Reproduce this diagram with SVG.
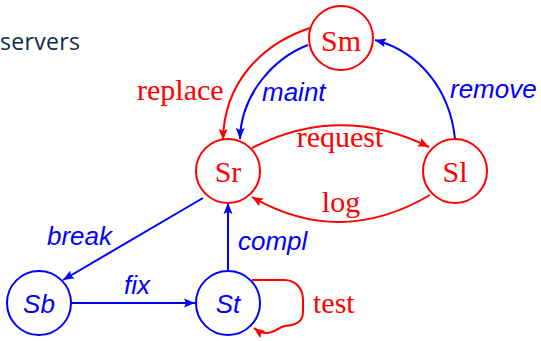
<svg xmlns="http://www.w3.org/2000/svg" width="541" height="341" viewBox="0 0 541 341">
  <defs>
    <marker id="arrRed" markerUnits="userSpaceOnUse" markerWidth="12" markerHeight="10" refX="11" refY="5" orient="auto">
      <path d="M0,0.5 L11,5 L0,9.5 L2,5 z" fill="#ff0000"/>
    </marker>
    <marker id="arrBlue" markerUnits="userSpaceOnUse" markerWidth="12" markerHeight="10" refX="11" refY="5" orient="auto">
      <path d="M0,0.5 L11,5 L0,9.5 L2,5 z" fill="#0000ff"/>
    </marker>
  </defs>
  <style>
    .node-red { fill: #ffffff; stroke: #ff0000; stroke-width: 2; }
    .node-blue { fill: #ffffff; stroke: #0000ff; stroke-width: 2; }
    .serif { font-family: "Liberation Serif", "Times New Roman", serif; font-size: 30px; fill: #ff0000; }
    .sans { font-family: "Liberation Sans", Arial, sans-serif; font-style: italic; font-size: 26px; fill: #0000ff; }
    .e-red { fill: none; stroke: #ff0000; stroke-width: 2; marker-end: url(#arrRed); }
    .e-blue { fill: none; stroke: #0000ff; stroke-width: 2; marker-end: url(#arrBlue); }
  </style>
  <rect width="541" height="341" fill="#ffffff"/>

  <text x="0" y="50" font-family="'Open Sans', 'Liberation Sans', sans-serif" font-size="23" fill="#0f2a4f" textLength="80">servers</text>

  <g id="edges">
    <path class="e-red" d="M310,28 C262,44 224,82 223,140"/>
    <path class="e-blue" d="M308,45 C274,58 241,94 240,139"/>
    <path class="e-blue" d="M455,139 C450,90 420,52 375,40"/>
    <path class="e-red" d="M252,148 Q340,103 429,147"/>
    <path class="e-red" d="M430,195 Q340,248 252,197"/>
    <path class="e-blue" d="M203,198 L63,280"/>
    <path class="e-blue" d="M71,303 L195,303"/>
    <path class="e-blue" d="M228,271 L228,203"/>
    <path class="e-red" d="M252,280 L284,280 C297,280 303,290 303,300 L303,312 C303,322 296,325 285,326 C278,327 276,333 266,333 C262,333 258,331 254,328"/>
  </g>

  <g id="labels">
    <text class="serif" x="137" y="100">replace</text>
    <text class="sans" x="262" y="101">maint</text>
    <text class="sans" x="450" y="98">remove</text>
    <text class="serif" x="340" y="147" text-anchor="middle">request</text>
    <text class="serif" x="341" y="212" text-anchor="middle">log</text>
    <text class="sans" x="47" y="245">break</text>
    <text class="sans" x="137" y="294" text-anchor="middle">fix</text>
    <text class="sans" x="238" y="250">compl</text>
    <text class="serif" x="313" y="313">test</text>
  </g>

  <g id="Sm">
    <circle class="node-red" cx="341" cy="38" r="32"/>
    <text class="serif" x="341" y="51" text-anchor="middle">Sm</text>
  </g>
  <g id="Sr">
    <circle class="node-red" cx="228" cy="171" r="32"/>
    <text class="serif" x="228" y="182" text-anchor="middle">Sr</text>
  </g>
  <g id="Sl">
    <circle class="node-red" cx="455" cy="171" r="32"/>
    <text class="serif" x="455" y="182" text-anchor="middle">Sl</text>
  </g>
  <g id="Sb">
    <circle class="node-blue" cx="39" cy="303" r="32"/>
    <text class="sans" x="39" y="313" text-anchor="middle">Sb</text>
  </g>
  <g id="St">
    <circle class="node-blue" cx="228" cy="303" r="32"/>
    <text class="sans" x="228" y="313" text-anchor="middle">St</text>
  </g>
</svg>
